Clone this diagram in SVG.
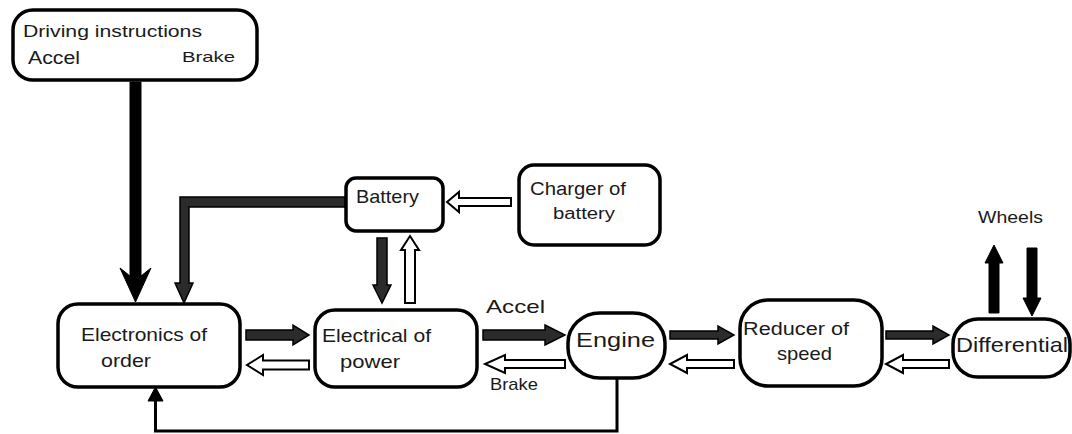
<svg xmlns="http://www.w3.org/2000/svg" width="1072" height="434" viewBox="0 0 1072 434">
<style>
.box{fill:#fff;stroke:#000;stroke-width:3.5}
.solid{fill:#2b2b2b;stroke:#000;stroke-width:1.5;stroke-linejoin:miter}
.hollow{fill:#fff;stroke:#000;stroke-width:2;stroke-linejoin:miter}
.black{fill:#000;stroke:#000;stroke-width:1}
.line{fill:none;stroke:#000;stroke-width:3}
text{font-family:"Liberation Sans",Arial,sans-serif;fill:#1a1a1a}
</style>
<rect width="1072" height="434" fill="#fff"/>
<g id="connectors">
<polygon class="black" points="130,82 141,82 141,276 151,268 135.5,302 120,268 130,276"/>
<polygon class="solid" points="345,197 180,197 180,283 175,283 184,303 193,283 189,283 189,207 345,207"/>
<polygon class="hollow" points="511,198 459,198 459,192 447,202 459,212 459,206 511,206"/>
<polygon class="solid" points="377,238 387,238 387,285 391,285 382,303 373,285 377,285"/>
<polygon class="hollow" points="405,303 405,250 401,250 410,236 419,250 415,250 415,303"/>
<polygon class="solid" points="246,330 293,330 293,325 309,335 293,345 293,340 246,340"/>
<polygon class="hollow" points="309,360.5 263,360.5 263,355 247,365 263,375 263,369.5 309,369.5"/>
<polygon class="solid" points="483,330 545,330 545,325 565,335 545,345 545,340 483,340"/>
<polygon class="hollow" points="565,360 505,360 505,355 485,364 505,373 505,368 565,368"/>
<polygon class="solid" points="670,331 718,331 718,326 734,335 718,344 718,339 670,339"/>
<polygon class="hollow" points="734,360 687,360 687,355 670,364 687,373 687,368 734,368"/>
<polygon class="solid" points="886,331 933,331 933,326 949,335 933,344 933,339 886,339"/>
<polygon class="hollow" points="949,360 903,360 903,355 886,364 903,373 903,368 949,368"/>
<polygon class="black" points="989,313 989,263 985,263 994,245 1003,263 999,263 999,313"/>
<polygon class="black" points="1027,248 1037,248 1037,298 1041,298 1032,316 1023,298 1027,298"/>
<polyline class="line" points="617,378 617,431 155.5,431 155.5,400"/>
<polygon class="black" points="148,401 155.5,387 163,401"/>
<text x="486" y="313" font-size="19" textLength="59" lengthAdjust="spacingAndGlyphs">Accel</text>
<text x="490" y="390" font-size="17" textLength="48" lengthAdjust="spacingAndGlyphs">Brake</text>
<text x="978" y="223" font-size="17" textLength="65" lengthAdjust="spacingAndGlyphs">Wheels</text>
</g>
<g id="driving">
<rect class="box" x="13" y="10" width="244" height="70" rx="20"/>
<text x="23" y="37" font-size="16" textLength="179" lengthAdjust="spacingAndGlyphs">Driving instructions</text>
<text x="28" y="64" font-size="18" textLength="52" lengthAdjust="spacingAndGlyphs">Accel</text>
<text x="182" y="62" font-size="15" textLength="53" lengthAdjust="spacingAndGlyphs">Brake</text>
</g>
<g id="battery">
<rect class="box" x="346" y="178" width="97" height="53" rx="10"/>
<text x="356" y="203" font-size="19" textLength="63" lengthAdjust="spacingAndGlyphs">Battery</text>
</g>
<g id="charger">
<rect class="box" x="519" y="165" width="141" height="80" rx="15"/>
<text x="530" y="195" font-size="18" textLength="96" lengthAdjust="spacingAndGlyphs">Charger of</text>
<text x="553" y="219" font-size="16" textLength="62" lengthAdjust="spacingAndGlyphs">battery</text>
</g>
<g id="electronics">
<rect class="box" x="58" y="304" width="182" height="83" rx="20"/>
<text x="81" y="341" font-size="19" textLength="126" lengthAdjust="spacingAndGlyphs">Electronics of</text>
<text x="101" y="367" font-size="19" textLength="50" lengthAdjust="spacingAndGlyphs">order</text>
</g>
<g id="electrical">
<rect class="box" x="315" y="310" width="162" height="77" rx="20"/>
<text x="322" y="342" font-size="19" textLength="109" lengthAdjust="spacingAndGlyphs">Electrical of</text>
<text x="340" y="368" font-size="19" textLength="60" lengthAdjust="spacingAndGlyphs">power</text>
</g>
<g id="engine">
<rect class="box" x="568" y="313" width="97" height="65" rx="32" ry="30"/>
<text x="576" y="347" font-size="20" textLength="79" lengthAdjust="spacingAndGlyphs">Engine</text>
</g>
<g id="reducer">
<rect class="box" x="740" y="300" width="142" height="86" rx="28"/>
<text x="743" y="335" font-size="18" textLength="106" lengthAdjust="spacingAndGlyphs">Reducer of</text>
<text x="777" y="360" font-size="19" textLength="55" lengthAdjust="spacingAndGlyphs">speed</text>
</g>
<g id="differential">
<rect class="box" x="953" y="319" width="117" height="58" rx="25"/>
<text x="956" y="352" font-size="21" textLength="112" lengthAdjust="spacingAndGlyphs">Differential</text>
</g>
</svg>
